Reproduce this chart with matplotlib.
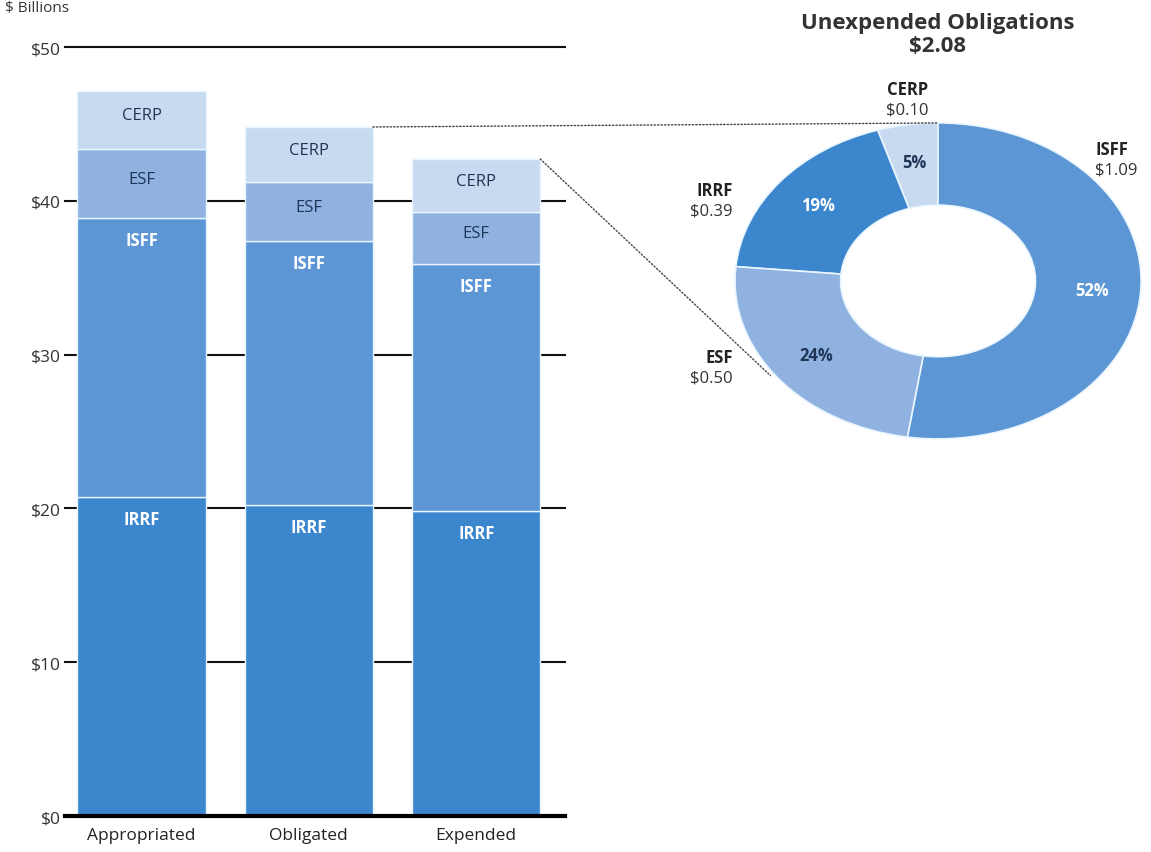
import numpy as np
import matplotlib
matplotlib.use('Agg')
import matplotlib.pyplot as plt
from matplotlib.patches import ConnectionPatch

plt.rcParams['font.family'] = ['Open Sans', 'DejaVu Sans']

# Bar data ($ billions)
stages = ['Appropriated', 'Obligated', 'Expended']
funds = ['IRRF', 'ISFF', 'ESF', 'CERP']
irrf = [20.74, 20.22, 19.83]
isff = [18.14, 17.17, 16.06]
esf = [4.49, 3.83, 3.38]
cerp = [3.77, 3.58, 3.45]

# Unexpended obligations donut ($ billions)
pie_labels = ['CERP', 'IRRF', 'ESF', 'ISFF']
pie_values = [0.10, 0.39, 0.50, 1.09]
pie_total = 2.08

colors = {'IRRF': '#3b86cd', 'ISFF': '#5c96d5', 'ESF': '#8fb2e1', 'CERP': '#c7daf0'}
text_colors = {'IRRF': 'white', 'ISFF': 'white', 'ESF': '#1f3556', 'CERP': '#1f3556'}

fig = plt.figure(figsize=(11.51, 8.53), dpi=100)

# ---- stacked bars ----
ax = fig.add_axes([0.0565, 0.0422, 0.434, 0.9015])
x = np.arange(len(stages))
width = 0.765
bottom = np.zeros(len(stages))
for name, vals in zip(funds, [irrf, isff, esf, cerp]):
    vals = np.array(vals)
    ax.bar(x, vals, width, bottom=bottom, color=colors[name],
           edgecolor='#eaf6ff', linewidth=1, zorder=3)
    for xi, b, v in zip(x, bottom, vals):
        if name in ('IRRF', 'ISFF'):
            ax.text(xi, b + v - 1.45, name, ha='center', va='center',
                    color=text_colors[name], fontsize=12, fontweight='bold', zorder=4)
        else:
            ax.text(xi, b + v / 2 + 0.3, name, ha='center', va='center',
                    color=text_colors[name], fontsize=12, zorder=4)
    bottom = bottom + vals

ax.set_xlim(-0.457, 2.528)
ax.set_ylim(0, 50)
ax.set_yticks([0, 10, 20, 30, 40, 50])
ax.set_yticklabels(['$0', '$10', '$20', '$30', '$40', '$50'], fontsize=12.5, color='#333333')
ax.tick_params(axis='y', length=0, pad=3)
ax.set_xticks(x)
ax.set_xticklabels(stages, fontsize=12.5, color='#222222')
ax.tick_params(axis='x', length=0, pad=8)
ax.yaxis.grid(True, color='#111111', linewidth=1.5, zorder=0)
for gl in ax.get_ygridlines():
    gl.set_clip_on(False)
ax.axhline(0, color='black', linewidth=3, zorder=5, clip_on=False)
for s in ax.spines.values():
    s.set_visible(False)

fig.text(0.004, 0.999, '$ Billions', fontsize=11, va='top', color='#333333')

# ---- donut ----
ax2 = fig.add_axes([0.5945, 0.438, 0.441, 0.463])
pie_colors = [colors[n] for n in pie_labels]
wedges, _, autotexts = ax2.pie(pie_values, colors=pie_colors, startangle=90,
                               counterclock=True, autopct='%1.0f%%', pctdistance=0.76,
                               wedgeprops=dict(width=0.52, edgecolor='#eaf6ff', linewidth=1.2))
pct_colors = {'CERP': '#1f3556', 'IRRF': 'white', 'ESF': '#1f3556', 'ISFF': 'white'}
for t, n in zip(autotexts, pie_labels):
    t.set_color(pct_colors[n])
    t.set_fontweight('bold')
    t.set_fontsize(12)
ax2.set_aspect('auto')
ax2.set_xlim(-1.25, 1.25)
ax2.set_ylim(-1.25, 1.25)

label_pos = {'CERP': (-0.15, 1.215, 'center'), 'ISFF': (0.773, 0.835, 'left'),
             'IRRF': (-1.01, 0.576, 'right'), 'ESF': (-1.01, -0.48, 'right')}
for n, v in zip(pie_labels, pie_values):
    lx, ly, ha = label_pos[n]
    ax2.text(lx, ly, n, ha=ha, va='center', fontsize=12, fontweight='bold', color='#222222')
    ax2.text(lx, ly - 0.13, f'${v:.2f}', ha=ha, va='center', fontsize=12, color='#333333')

fig.text(0.8146, 0.973, 'Unexpended Obligations', ha='center', va='center',
         fontsize=16, fontweight='bold', color='#333333')
fig.text(0.8146, 0.946, f'${pie_total:.2f}', ha='center', va='center',
         fontsize=16, fontweight='bold', color='#333333')

# ---- connector lines ----
obl_top = irrf[1] + isff[1] + esf[1] + cerp[1]
exp_top = irrf[2] + isff[2] + esf[2] + cerp[2]
con1 = ConnectionPatch(xyA=(1 + width / 2, obl_top), coordsA=ax.transData,
                       xyB=(0, 1.0), coordsB=ax2.transData,
                       linestyle=(0, (1, 1.5)), color='#444444', linewidth=1)
ang = np.deg2rad(216)
con2 = ConnectionPatch(xyA=(2 + width / 2, exp_top), coordsA=ax.transData,
                       xyB=(np.cos(ang) * 1.02, np.sin(ang) * 1.02), coordsB=ax2.transData,
                       linestyle=(0, (1, 1.5)), color='#444444', linewidth=1)
fig.add_artist(con1)
fig.add_artist(con2)

fig.savefig('out.png', dpi=100)
